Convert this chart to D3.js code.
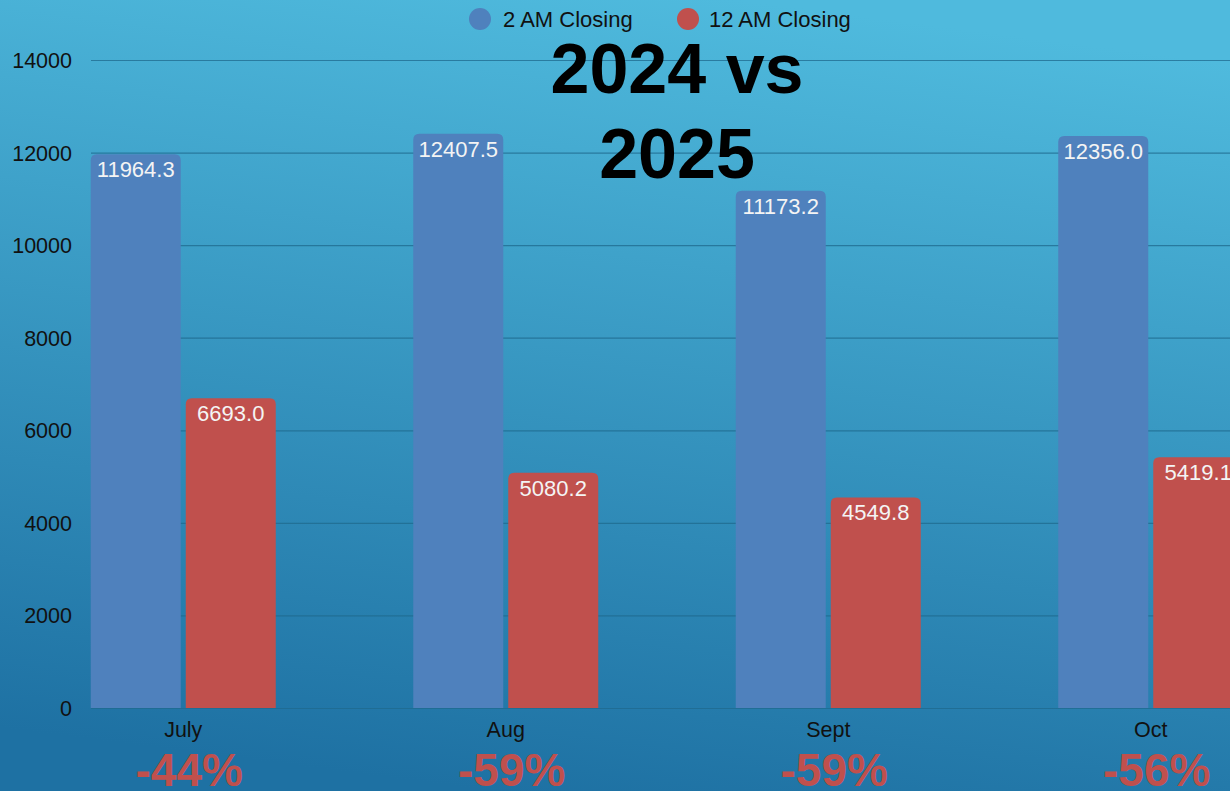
<!DOCTYPE html>
<html>
<head>
<meta charset="utf-8">
<script src="https://cdn.jsdelivr.net/npm/d3@7"></script>
<style>
  body { margin: 0; padding: 0; overflow: hidden; }
  svg { display: block; font-family: "Liberation Sans", Arial, sans-serif; }
</style>
</head>
<body>
<div id="chart"></div>
<script>
// data
const months = ["July", "Aug", "Sept", "Oct"];
const closing2am = [11964.3, 12407.5, 11173.2, 12356.0];
const closing12am = [6693.0, 5080.2, 4549.8, 5419.1];
const changes = ["-44%", "-59%", "-59%", "-56%"];
const yTicks = [0, 2000, 4000, 6000, 8000, 10000, 12000, 14000];
const seriesNames = ["2 AM Closing", "12 AM Closing"];

const width = 1230, height = 791;
const blue = "#4f81bd", red = "#c0504d";

const svg = d3.select("#chart")
    .append("svg")
    .attr("width", width)
    .attr("height", height);

// background gradient
const grad = svg.append("defs").append("linearGradient")
    .attr("id", "bg")
    .attr("x1", "0.6").attr("y1", "0")
    .attr("x2", "0.4").attr("y2", "1");
grad.append("stop").attr("offset", "0%").attr("stop-color", "#4fbadd");
grad.append("stop").attr("offset", "100%").attr("stop-color", "#1e71a3");
svg.append("rect").attr("width", width).attr("height", height).attr("fill", "url(#bg)");

const plotLeft = 91;
const y = d3.scaleLinear().domain([0, 14000]).range([708, 60]);
const x = d3.scaleBand().domain(months).range([22, 1312]).paddingInner(0);
const barW = 90, gap = 5;

// gridlines
svg.append("g")
    .selectAll("line")
    .data(yTicks)
    .join("line")
    .attr("x1", plotLeft)
    .attr("x2", width)
    .attr("y1", d => y(d) + 0.5)
    .attr("y2", d => y(d) + 0.5)
    .attr("stroke", "#1f6a8e")
    .attr("stroke-opacity", 0.75)
    .attr("stroke-width", 1.2);

// y axis labels
svg.append("g")
    .selectAll("text")
    .data(yTicks)
    .join("text")
    .attr("x", 72)
    .attr("y", d => y(d) + 8)
    .attr("text-anchor", "end")
    .style("font-size", "21.5px")
    .attr("fill", "#111")
    .text(d => d);

// bar with rounded top corners
const topRounded = (x0, y0, w, h, r) => {
    r = Math.min(r, h);
    return `M${x0},${y0 + h}V${y0 + r}Q${x0},${y0} ${x0 + r},${y0}H${x0 + w - r}Q${x0 + w},${y0} ${x0 + w},${y0 + r}V${y0 + h}Z`;
};

const center = m => x(m) + x.bandwidth() / 2;
const rows = months.map((m, i) => ({month: m, v: [closing2am[i], closing12am[i]]}));

const groups = svg.append("g")
    .selectAll("g")
    .data(rows)
    .join("g");

groups.selectAll("path")
    .data(d => d.v.map((v, k) => ({month: d.month, v, k})))
    .join("path")
    .attr("d", d => {
        const x0 = d.k === 0 ? center(d.month) - gap / 2 - barW : center(d.month) + gap / 2;
        return topRounded(x0, y(d.v), barW, y(0) - y(d.v), 6);
    })
    .attr("fill", d => d.k === 0 ? blue : red);

groups.selectAll("text.val")
    .data(d => d.v.map((v, k) => ({month: d.month, v, k})))
    .join("text")
    .attr("class", "val")
    .attr("x", d => d.k === 0 ? center(d.month) - gap / 2 - barW / 2 : center(d.month) + gap / 2 + barW / 2)
    .attr("y", d => y(d.v) + 23)
    .attr("text-anchor", "middle")
    .style("font-size", "22px")
    .attr("fill", "#f4f4f4")
    .text(d => d.v.toFixed(1));

// month labels
svg.append("g")
    .selectAll("text")
    .data(months)
    .join("text")
    .attr("x", d => center(d))
    .attr("y", 737)
    .attr("text-anchor", "middle")
    .style("font-size", "21.5px")
    .attr("fill", "#111")
    .text(d => d);

// percent change labels
svg.append("g")
    .selectAll("text")
    .data(months)
    .join("text")
    .attr("x", d => center(d) + 6)
    .attr("y", 786)
    .attr("text-anchor", "middle")
    .style("font-size", "46px")
    .style("font-weight", "bold")
    .attr("fill", red)
    .text((d, i) => changes[i]);

// legend
const legend = svg.append("g");
legend.selectAll("circle")
    .data(seriesNames)
    .join("circle")
    .attr("cx", (d, i) => 480 + i * 208)
    .attr("cy", 19)
    .attr("r", 11)
    .attr("fill", (d, i) => i === 0 ? blue : red);
legend.selectAll("text")
    .data(seriesNames)
    .join("text")
    .attr("x", (d, i) => 503 + i * 206)
    .attr("y", 27)
    .style("font-size", "22px")
    .attr("fill", "#111")
    .text(d => d);

// title
const title = svg.append("text")
    .attr("text-anchor", "middle")
    .style("font-size", "70px")
    .style("font-weight", "bold")
    .attr("fill", "#000");
title.append("tspan").attr("x", 677).attr("y", 93).text("2024 vs");
title.append("tspan").attr("x", 677).attr("y", 178).text("2025");
</script>
</body>
</html>
